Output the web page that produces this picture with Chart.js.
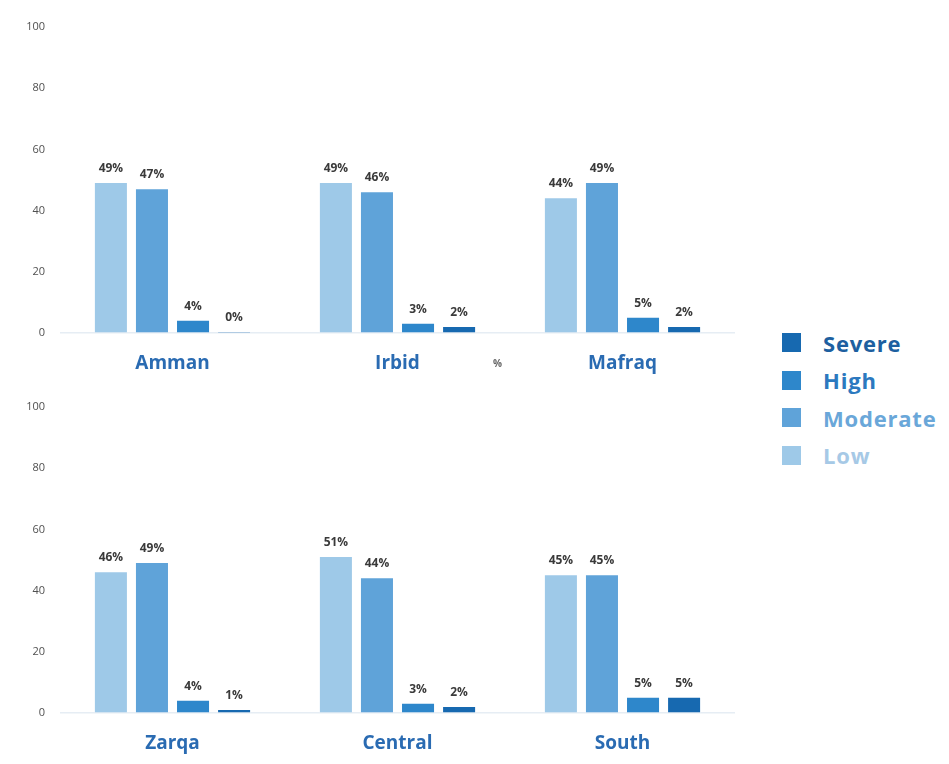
<!DOCTYPE html>
<html>
<head>
<meta charset="utf-8">
<script src="https://cdn.jsdelivr.net/npm/chart.js@4"></script>
<style>
  html, body { margin:0; padding:0; background:#fff; }
  body { width:949px; height:764px; position:relative; overflow:hidden; font-family: "Open Sans", sans-serif; }
  canvas { position:absolute; left:0; }
  #c1 { top:0; }
  #c2 { top:380px; }
  #pct { position:absolute; left:493px; top:356px; font: bold 10px "Open Sans", sans-serif; color:#666; }
  #legend { position:absolute; left:782px; top:324px; }
  .li { height:37.5px; display:flex; align-items:center; font: bold 22px "Open Sans", sans-serif; letter-spacing: 0.8px; }
  .sw { width:19px; height:19px; margin-right:22px; }
</style>
</head>
<body>
<canvas id="c1" width="760" height="380"></canvas>
<canvas id="c2" width="760" height="380"></canvas>
<div id="pct">%</div>
<div id="legend"></div>
<script>
const categoriesTop = ['Amman', 'Irbid', 'Mafraq'];
const categoriesBottom = ['Zarqa', 'Central', 'South'];
const seriesNames = ['Low', 'Moderate', 'High', 'Severe'];
const lowTop = [49, 49, 44];
const moderateTop = [47, 46, 49];
const highTop = [4, 3, 5];
const severeTop = [0, 2, 2];
const lowBottom = [46, 51, 45];
const moderateBottom = [49, 44, 45];
const highBottom = [4, 3, 5];
const severeBottom = [1, 2, 5];
const yTicks = [0, 20, 40, 60, 80, 100];

const barColors = ['#9ec9e8', '#5fa3d9', '#2e87cb', '#1769b0'];
const legendText = ['#a6c9e6', '#6aa7d9', '#2c79bf', '#1d5fa0'];

const valueLabels = {
  id: 'valueLabels',
  afterDatasetsDraw(chart) {
    const ctx = chart.ctx;
    ctx.save();
    ctx.font = 'bold 12px "Open Sans", sans-serif';
    ctx.fillStyle = '#3a3a3a';
    ctx.textAlign = 'center';
    ctx.textBaseline = 'alphabetic';
    chart.data.datasets.forEach((ds, i) => {
      chart.getDatasetMeta(i).data.forEach((bar, j) => {
        ctx.fillText(ds.data[j] + '%', bar.x, bar.y - 11);
      });
    });
    ctx.restore();
  }
};

function makeChart(id, cats, seriesData) {
  return new Chart(document.getElementById(id), {
    type: 'bar',
    data: {
      labels: cats,
      datasets: seriesNames.map((n, i) => ({
        label: n,
        data: seriesData[i],
        backgroundColor: barColors[i],
        borderWidth: 0,
        barPercentage: 0.78,
        categoryPercentage: 0.73,
        minBarLength: 1
      }))
    },
    options: {
      responsive: false,
      animation: false,
      devicePixelRatio: 1,
      layout: { padding: { top: 27, right: 25, left: 0, bottom: 0 } },
      plugins: { legend: { display: false }, tooltip: { enabled: false } },
      scales: {
        x: {
          grid: { display: false },
          border: { display: false },
          ticks: { color: '#2a6bb2', font: { family: '"Open Sans"', weight: 'bold', size: 19 }, padding: 11 },
          afterFit(s) { s.height = 47; }
        },
        y: {
          min: 0, max: 100,
          afterBuildTicks(s) { s.ticks = yTicks.map(v => ({ value: v })); },
          grid: {
            color: c => c.tick && c.tick.value === 0 ? '#e6edf4' : 'rgba(0,0,0,0)',
            lineWidth: 1.5,
            drawTicks: false
          },
          border: { display: false },
          ticks: { color: '#505050', font: { family: '"Open Sans"', size: 11 }, padding: 15 },
          afterFit(s) { s.width = 60; }
        }
      }
    },
    plugins: [valueLabels]
  });
}

makeChart('c1', categoriesTop, [lowTop, moderateTop, highTop, severeTop]);
makeChart('c2', categoriesBottom, [lowBottom, moderateBottom, highBottom, severeBottom]);

const lg = document.getElementById('legend');
[3, 2, 1, 0].forEach(i => {
  const d = document.createElement('div');
  d.className = 'li';
  d.innerHTML = '<span class="sw" style="background:' + barColors[i] + '"></span><span style="color:' + legendText[i] + '">' + seriesNames[i] + '</span>';
  lg.appendChild(d);
});
</script>
</body>
</html>
